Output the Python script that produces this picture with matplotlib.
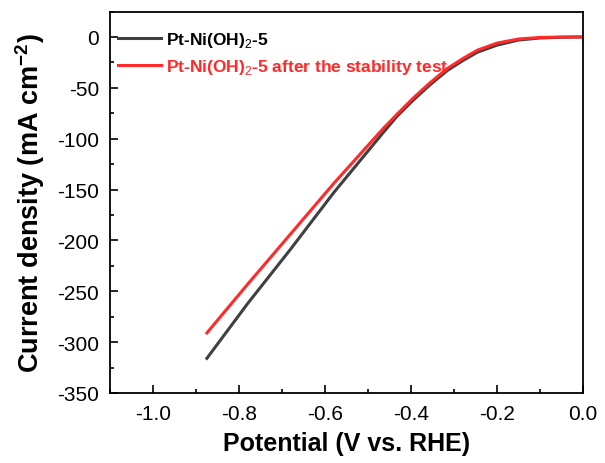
import numpy as np
import matplotlib
matplotlib.use('Agg')
import matplotlib.pyplot as plt
from matplotlib.ticker import MultipleLocator

plt.rcParams['font.family'] = ['Liberation Sans', 'DejaVu Sans']
plt.rcParams['mathtext.fontset'] = 'custom'
plt.rcParams['mathtext.rm'] = 'Liberation Sans'
plt.rcParams['mathtext.bf'] = 'Liberation Sans:bold'
plt.rcParams['axes.unicode_minus'] = False

# LSV curves
potential_fresh = [-0.875, -0.78, -0.681, -0.58, -0.465, -0.433, -0.395, -0.356,
                   -0.316, -0.279, -0.246, -0.2, -0.15, -0.1, -0.05, 0.0]
current_fresh = [-316, -262, -209, -153, -94, -78, -62, -47,
                 -33, -23, -15, -8, -3, -1, -0.3, 0]
potential_after = [-0.875, -0.78, -0.681, -0.58, -0.465, -0.433, -0.395, -0.356,
                   -0.316, -0.279, -0.246, -0.2, -0.15, -0.1, -0.05, 0.0]
current_after = [-291, -243, -194, -144, -90, -76, -60, -45,
                 -31, -21, -13, -6, -2, -0.5, -0.1, 0]

labels = ['Pt-Ni(OH)$_2$-5', 'Pt-Ni(OH)$_2$-5 after the stability test']
colors = ['#404040', '#ff2a2a']

fig = plt.figure(figsize=(6.05, 4.64), dpi=100)
ax = fig.add_axes([0.182, 0.151, 0.782, 0.822])

ax.plot(potential_fresh, current_fresh, color=colors[0], lw=2.2, label=labels[0])
ax.plot(potential_after, current_after, color=colors[1], lw=2.2, label=labels[1])

ax.set_xlim(-1.1, 0.0)
ax.set_ylim(-350, 25)
ax.xaxis.set_major_locator(MultipleLocator(0.2))
ax.xaxis.set_minor_locator(MultipleLocator(0.1))
ax.yaxis.set_major_locator(MultipleLocator(50))
ax.yaxis.set_minor_locator(MultipleLocator(25))
ax.xaxis.set_major_formatter(plt.FuncFormatter(lambda v, p: f'{v:.1f}'))
ax.tick_params(which='both', direction='in', top=False, right=False, labelsize=15)
ax.tick_params(which='major', length=6, width=1.2)
ax.tick_params(which='minor', length=3, width=1.2)
ax.tick_params(axis='x', pad=8)
ax.tick_params(axis='y', pad=8)
for s in ax.spines.values():
    s.set_linewidth(1.3)

ax.set_xlabel('Potential (V vs. RHE)', fontsize=18, fontweight='bold', labelpad=6)
ax.set_ylabel('Current density (mA cm$^{\\mathbf{-2}}$)', fontsize=19.5, fontweight='bold', labelpad=7)

leg = ax.legend(loc='upper left', bbox_to_anchor=(-0.022, 1.0), frameon=False,
                prop={'weight': 'bold', 'size': 12.5}, handlelength=2.5,
                handletextpad=0.25, labelspacing=0.48, borderaxespad=0.65)
leg.get_texts()[0].set_color('black')
leg.get_texts()[1].set_color(colors[1])

fig.savefig('out.png', dpi=100)
